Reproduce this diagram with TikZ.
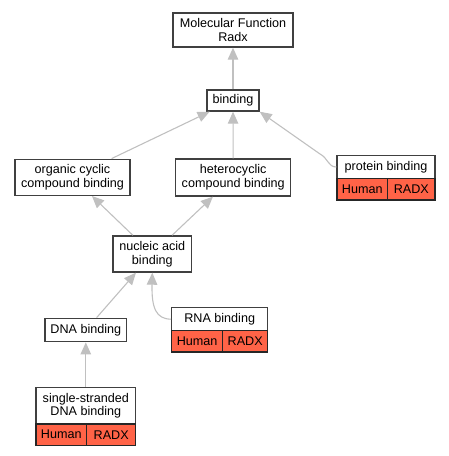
\documentclass[tikz,border=0pt]{standalone}
\usepackage{fontspec}
\setmainfont{Liberation Sans}
\usetikzlibrary{arrows.meta}
\definecolor{boxc}{HTML}{404040}
\definecolor{edgec}{HTML}{C0C0C0}
\definecolor{redc}{HTML}{FF6347}
\newcommand{\fs}{\fontsize{12.6bp}{13.6bp}\selectfont}
\tikzset{
  x=1bp, y=-1bp,
  box/.style={draw=boxc, line width=1.4bp, fill=white, inner sep=0pt, align=center, font=\fs},
  cell/.style={draw=black!85, line width=1.2bp, fill=redc, inner sep=0pt, align=center, font=\fs},
  edge/.style={draw=edgec, line width=1.1bp, -{Triangle[width=10.5bp,length=12bp,fill=edgec]}},
}
\begin{document}
\begin{tikzpicture}
\useasboundingbox (0,0) rectangle (449,456);
% plain boxes
\node[box, minimum width=120bp, minimum height=34bp] (mf) at (233,30) {Molecular Function\\Radx};
\node[box, minimum width=52bp, minimum height=21bp] (bind) at (233,100.5) {binding};
\node[box, minimum width=115bp, minimum height=36bp] (org) at (72.5,177.3) {organic cyclic\\compound binding};
\node[box, minimum width=115bp, minimum height=37bp] (het) at (233.2,177.5) {heterocyclic\\compound binding};
\node[box, minimum width=78.7bp, minimum height=36bp] (nuc) at (152.3,254) {nucleic acid\\binding};
\node[box, minimum width=81.7bp, minimum height=23.4bp] (dna) at (85.8,330) {DNA binding};
% protein binding
\node[box, minimum width=98bp, minimum height=22.6bp] (prot) at (386,167) {protein binding};
\node[cell, minimum width=50.7bp, minimum height=21.7bp] (protH) at (362.3,189.2) {Human};
\node[cell, minimum width=47.3bp, minimum height=21.7bp] (protR) at (411.3,189.2) {RADX};
% RNA binding
\node[box, minimum width=96bp, minimum height=23bp] (rna) at (219.7,319.2) {RNA binding};
\node[cell, minimum width=51bp, minimum height=21.3bp] (rnaH) at (197.2,341.3) {Human};
\node[cell, minimum width=45bp, minimum height=21.3bp] (rnaR) at (245.2,341.3) {RADX};
% single-stranded DNA binding
\node[box, minimum width=99.7bp, minimum height=36.3bp] (ss) at (85.8,405.8) {single-stranded\\DNA binding};
\node[cell, minimum width=50.7bp, minimum height=21.3bp] (ssH) at (61.3,434.7) {Human};
\node[cell, minimum width=49bp, minimum height=21.3bp] (ssR) at (111.2,434.7) {RADX};
% edges
\coordinate (protbend) at (320,154);
\draw[edge] (bind) -- (mf);
\draw[edge] (org) -- (bind);
\draw[edge] (het) -- (bind);
\draw[edge] (prot.west) .. controls (328,167) and (328,158) .. (protbend) -- (bind.south east);
\draw[edge] (nuc) -- (org);
\draw[edge] (nuc) -- (het);
\draw[edge] (dna) -- (nuc);
\draw[edge] (rna.west) .. controls (156,319) and (151.5,308) .. (nuc.south);
\draw[edge] (ss) -- (dna);
\end{tikzpicture}
\end{document}
